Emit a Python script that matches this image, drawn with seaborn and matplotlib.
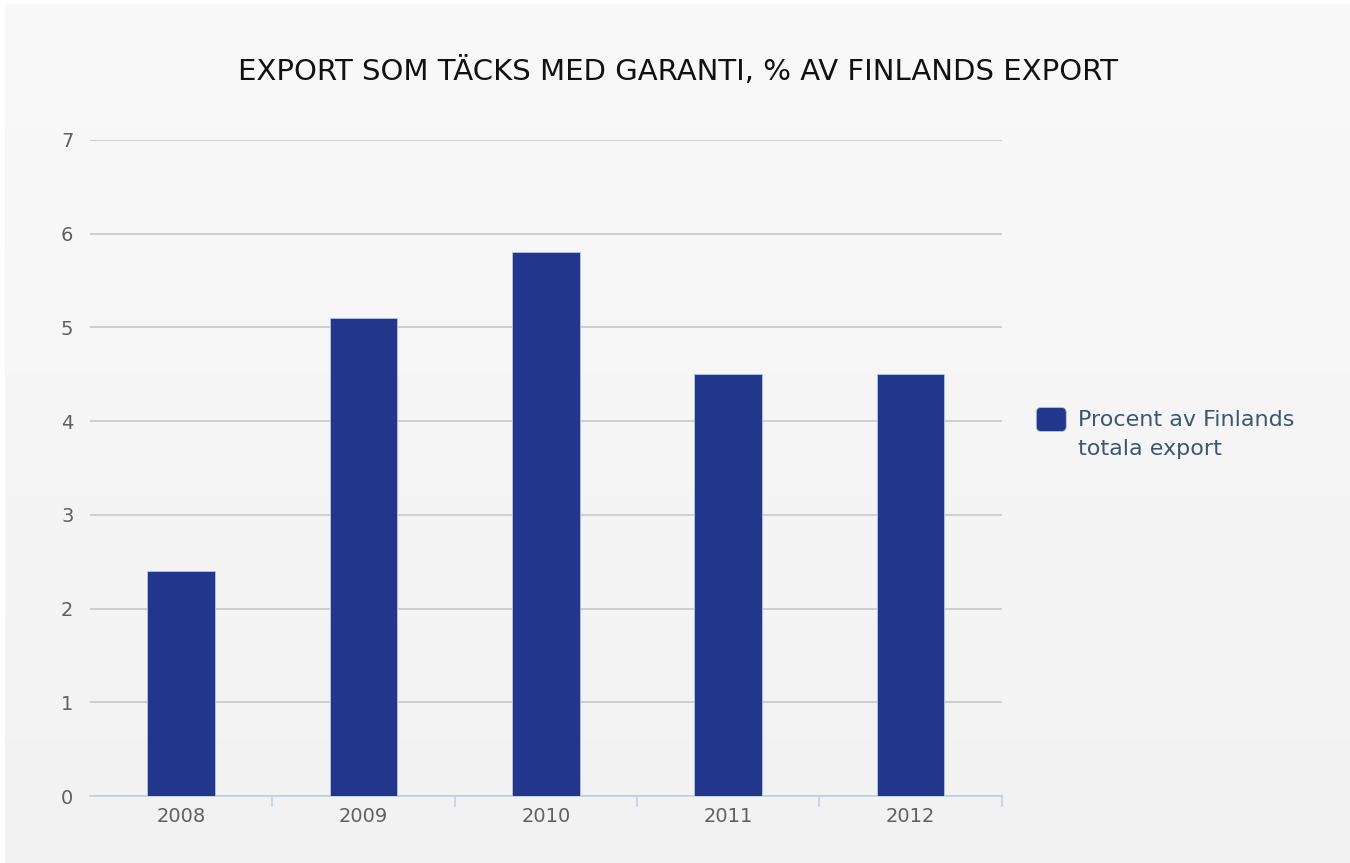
import numpy as np
import pandas as pd
import matplotlib
matplotlib.use('Agg')
import matplotlib.pyplot as plt
from matplotlib.ticker import FixedLocator
from matplotlib.patches import FancyBboxPatch
from matplotlib.legend_handler import HandlerPatch
import seaborn as sns

# ── Données ───────────────────────────────────────────────
years  = ['2008', '2009', '2010', '2011', '2012']
values = [2.4, 5.1, 5.8, 4.5, 4.5]
serie  = 'Procent av Finlands\ntotala export'
titre  = 'EXPORT SOM TÄCKS MED GARANTI, % AV FINLANDS EXPORT'

df = pd.DataFrame({'year': years, 'value': values, 'serie': serie})

BAR_COLOR = '#22368c'

sns.set_theme(style='white')
plt.rcParams['font.family'] = ['DejaVu Sans']

fig = plt.figure(figsize=(13.5, 8.63), dpi=100)
fig.patch.set_facecolor('white')

# fond dégradé
bg = fig.add_axes([0.004, 0.0, 0.996, 0.995])
grad = np.linspace(0, 1, 256).reshape(-1, 1)
bg.imshow(grad, aspect='auto', cmap=matplotlib.colors.LinearSegmentedColormap.from_list(
    'bg', ['#f9f9f9', '#f2f2f2']), extent=[0, 1, 0, 1], origin='upper')
bg.axis('off')

ax = fig.add_axes([0.0667, 0.0776, 0.6753, 0.7602])
ax.patch.set_alpha(0)

sns.barplot(data=df, x='year', y='value', hue='serie', palette=[BAR_COLOR],
            saturation=1, width=0.37, edgecolor='#b8c4e4', linewidth=0.6,
            ax=ax, zorder=3)

ax.set_ylim(0, 7)
ax.set_xlim(-0.5, 4.5)
ax.set_yticks(range(0, 8))
ax.yaxis.grid(True, color='#c4c4c4', linewidth=1.1, zorder=0)
ax.set_xlabel('')
ax.set_ylabel('')

for side in ['top', 'right', 'left']:
    ax.spines[side].set_visible(False)
ax.spines['bottom'].set_color('#c0d0e0')
ax.spines['bottom'].set_linewidth(1.2)

ax.tick_params(axis='x', which='major', length=0, pad=8, labelsize=14, labelcolor='#606060')
ax.tick_params(axis='y', length=0, pad=12, labelsize=14, labelcolor='#606060')
ax.xaxis.set_minor_locator(FixedLocator([0.5, 1.5, 2.5, 3.5, 4.5]))
ax.tick_params(axis='x', which='minor', bottom=True, length=8, width=1.1, color='#c0d0e0')


# carré arrondi de la légende, aligné sur la première ligne (tailles en points)
def carre_arrondi(legend, orig_handle, xdescent, ydescent, width, height, fontsize):
    return FancyBboxPatch((-xdescent + 1, -ydescent + 0.55 * fontsize + 2), 21.6, 17.3,
                          boxstyle='round,pad=0,rounding_size=3.5',
                          facecolor=BAR_COLOR, edgecolor=BAR_COLOR)


handles, labels = ax.get_legend_handles_labels()
leg = ax.legend(handles, labels, loc='upper left', bbox_to_anchor=(0.760, 0.535),
                bbox_transform=fig.transFigure, frameon=False, fontsize=16,
                handlelength=1.48, handleheight=1.2, handletextpad=0.45, borderaxespad=0,
                handler_map={handles[0]: HandlerPatch(patch_func=carre_arrondi)})
for t in leg.get_texts():
    t.set_color('#3e576f')
    t.set_linespacing(1.55)

fig.text(0.502, 0.9166, titre, ha='center', va='center', fontsize=21, color='#111111')

fig.savefig('out.png', dpi=100)
